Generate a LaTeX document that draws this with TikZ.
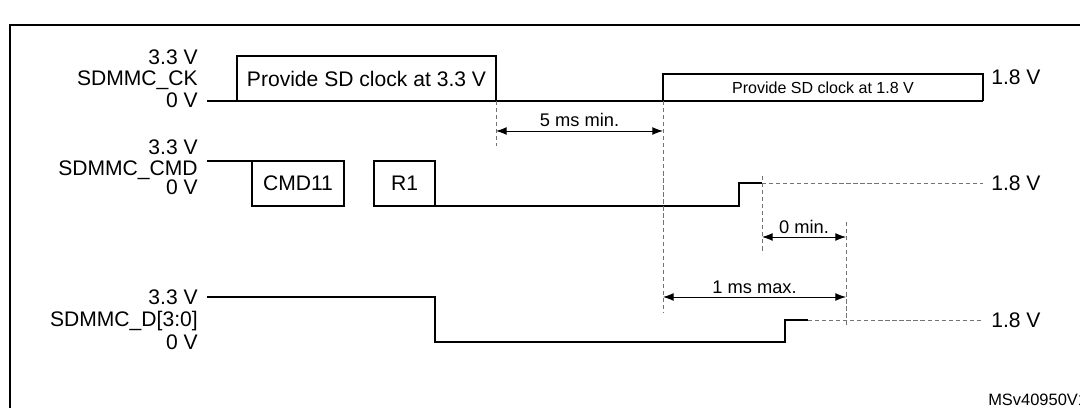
\documentclass[tikz,border=0pt]{standalone}
\usepackage{fontspec}
\setmainfont{Liberation Sans}
\usetikzlibrary{arrows.meta}
\usetikzlibrary{positioning}

\begin{document}
\begin{tikzpicture}[
  sig/.style={line width=1.5pt},
  guide/.style={gray!90!black, dash pattern=on 3pt off 2pt, line width=0.6pt},
  dim/.style={line width=0.6pt, {Latex[length=7.5pt,width=5.5pt]}-{Latex[length=7.5pt,width=5.5pt]}},
  lbl/.style={font=\fontsize{15}{15}\selectfont, inner sep=0pt, text depth=0pt},
  note/.style={font=\fontsize{13}{13}\selectfont, inner sep=1pt, text depth=0pt}
]
\useasboundingbox (0,0) rectangle (27,10.2);
\clip (0,0) rectangle (27,10.2);
\draw[line width=1.4pt] (0.25,-1) -- (0.25,9.575) -- (28,9.575);

% SDMMC_CK
\node[lbl, anchor=east] (ckhi) at (4.95,8.775) {3.3 V};
\node[lbl, anchor=east] (ckname) at (4.95,8.25) {SDMMC\_CK};
\node[lbl, anchor=east] (cklo) at (4.95,7.7) {0 V};
\draw[sig] (5.175,7.675) -- (24.575,7.675);
\draw[sig] (5.925,7.675) |- (12.4,8.8) -- (12.4,7.675);
\draw[sig] (16.575,7.675) |- (24.575,8.35) -- (24.575,7.675);
\node[lbl] (clk33) at (9.1625,8.2375) {Provide SD clock at 3.3 V};
\node[font=\fontsize{11.4}{11.4}\selectfont, inner sep=0pt] (clk18) at (20.575,8.0) {Provide SD clock at 1.8 V};
\node[lbl, anchor=west] (ck18) at (24.775,8.275) {1.8 V};

% SDMMC_CMD
\node[lbl, anchor=east] (cmdhi) at (4.95,6.525) {3.3 V};
\node[lbl, anchor=east] (cmdname) at (4.95,6.0) {SDMMC\_CMD};
\node[lbl, anchor=east] (cmdlo) at (4.95,5.525) {0 V};
\draw[sig] (5.175,6.175) -- (6.3,6.175);
\draw[sig] (6.3,5.05) rectangle (8.6,6.175);
\draw[sig] (9.35,5.05) rectangle (10.875,6.175);
\draw[sig] (10.875,5.05) -- (18.475,5.05) -- (18.475,5.625) -- (19.05,5.625);
\draw[guide] (19.05,5.625) -- (24.575,5.625);
\node[lbl] (cmd11) at (7.45,5.6125) {CMD11};
\node[lbl] (resp) at (10.1125,5.6125) {R1};
\node[lbl, anchor=west] (cmd18) at (24.775,5.625) {1.8 V};

% SDMMC_D[3:0]
\node[lbl, anchor=east] (dhi) at (4.95,2.775) {3.3 V};
\node[lbl, anchor=east] (dname) at (4.95,2.225) {SDMMC\_D[3:0]};
\node[lbl, anchor=east] (dlo) at (4.95,1.65) {0 V};
\draw[sig] (5.175,2.775) -- (10.875,2.775) -- (10.875,1.65) -- (19.625,1.65) -- (19.625,2.2) -- (20.2,2.2);
\draw[guide] (20.2,2.2) -- (24.575,2.2);
\node[lbl, anchor=west] (d18) at (24.775,2.2) {1.8 V};

% timing marks
\draw[guide] (12.4,7.675) -- (12.4,6.55);
\draw[guide] (16.575,7.675) -- (16.575,2.4);
\draw[guide] (19.05,5.8) -- (19.05,3.9);
\draw[guide] (21.15,4.65) -- (21.15,2.025);

\coordinate (offck) at (12.4,6.925);
\coordinate (onck) at (16.575,6.925);
\draw[dim] (offck) -- node[note, above=2pt] (t5ms) {5 ms min.} (onck);
\coordinate (cmdup) at (19.05,4.275);
\coordinate (datup) at (21.15,4.275);
\draw[dim] (cmdup) -- node[note, above=1pt] (t0) {0 min.} (datup);
\coordinate (ckup) at (16.575,2.775);
\coordinate (dend) at (21.15,2.775);
\draw[dim] (ckup) -- node[note, above=1pt] (t1ms) {1 ms max.} (dend);

\node[font=\fontsize{11.7}{11.7}\selectfont, anchor=west, inner sep=0pt] (ref) at (24.7,0.2) {MSv40950V1};
\end{tikzpicture}
\end{document}
